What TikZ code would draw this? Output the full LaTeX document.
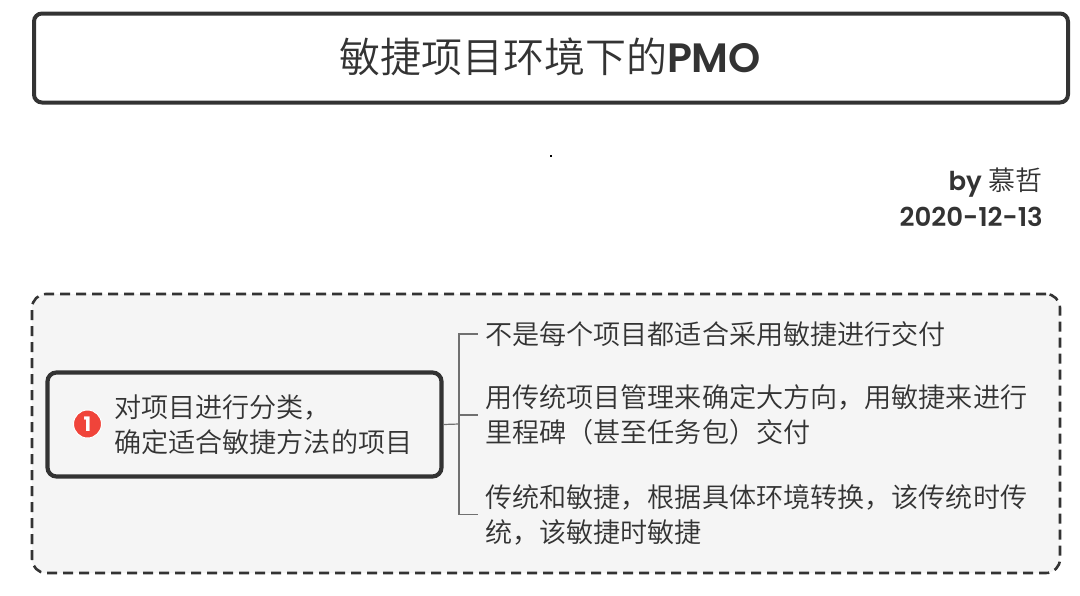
\documentclass[tikz,border=0pt]{standalone}
\usepackage{fontspec}
\setmainfont{Poppins}
\newfontfamily\cjk{Noto Sans CJK SC DemiLight}
\newfontfamily\latinsemi{Poppins SemiBold}
\usetikzlibrary{positioning}
\definecolor{inkdark}{HTML}{333333}
\definecolor{panelgray}{HTML}{F5F5F5}
\definecolor{badgered}{HTML}{F0443A}
\definecolor{branchgray}{HTML}{707070}
\tikzset{
  leaftext/.style={anchor=west,align=left,inner ysep=0pt,inner xsep=7pt,text=inkdark,font=\fontsize{27.1}{35}\selectfont\cjk},
  branchline/.style={draw=branchgray,line width=1.2pt}
}
\begin{document}
\begin{tikzpicture}[x=1pt,y=-1pt]
  \useasboundingbox (0,0) rectangle (1080,595);
  % title
  \node[draw=inkdark,line width=4pt,rounded corners=8pt,minimum width=1034,minimum height=89,inner sep=0pt] (title) at (551,58) {};
  \node[text=inkdark,inner sep=0pt] (titletext) at (550,57) {\fontsize{41}{48}\selectfont{\cjk 敏捷项目环境下的}{\latinsemi PMO}};
  \node[fill=black,inner sep=0pt,minimum size=1.5pt] (dot) at (551,156) {};
  \node[anchor=east,align=right,inner sep=0pt,text=inkdark,font=\fontsize{26}{36}\selectfont] (byline) at (1043,197) {{\latinsemi by} {\cjk\fontsize{27}{36}\selectfont 慕哲}\\{\latinsemi 2020-12-13}};
  % panel
  \node[draw=inkdark,line width=2.6pt,dash pattern=on 10pt off 6pt,rounded corners=14pt,fill=panelgray,minimum width=1028,minimum height=279,inner sep=0pt] (panel) at (546,433.5) {};
  \node[draw=inkdark,line width=4.2pt,rounded corners=9pt,fill=panelgray,minimum width=394,minimum height=104,inner sep=0pt] (topic) at (244.5,424.5) {};
  \node[circle,draw=white,line width=1pt,fill=badgered,minimum size=28,inner sep=0pt,text=white,font=\fontsize{20}{20}\selectfont\bfseries] (badge) at (87.5,424) {1};
  \node[leaftext,inner xsep=0pt] (topictext) at (114,424.5) {对项目进行分类，\\确定适合敏捷方法的项目};
  \node[leaftext] (leafa) at (478,334) {不是每个项目都适合采用敏捷进行交付};
  \node[leaftext] (leafb) at (478,415) {用传统项目管理来确定大方向，用敏捷来进行\\里程碑（甚至任务包）交付};
  \node[leaftext] (leafc) at (478,514.5) {传统和敏捷，根据具体环境转换，该传统时传\\统，该敏捷时敏捷};
  \coordinate (fork) at (459,424);
  \draw[branchline] (topic.east) -- (fork);
  \draw[branchline] (fork) |- (leafa.west);
  \draw[branchline] (fork) |- (leafb.west);
  \draw[branchline] (fork) |- (leafc.west);
\end{tikzpicture}
\end{document}
